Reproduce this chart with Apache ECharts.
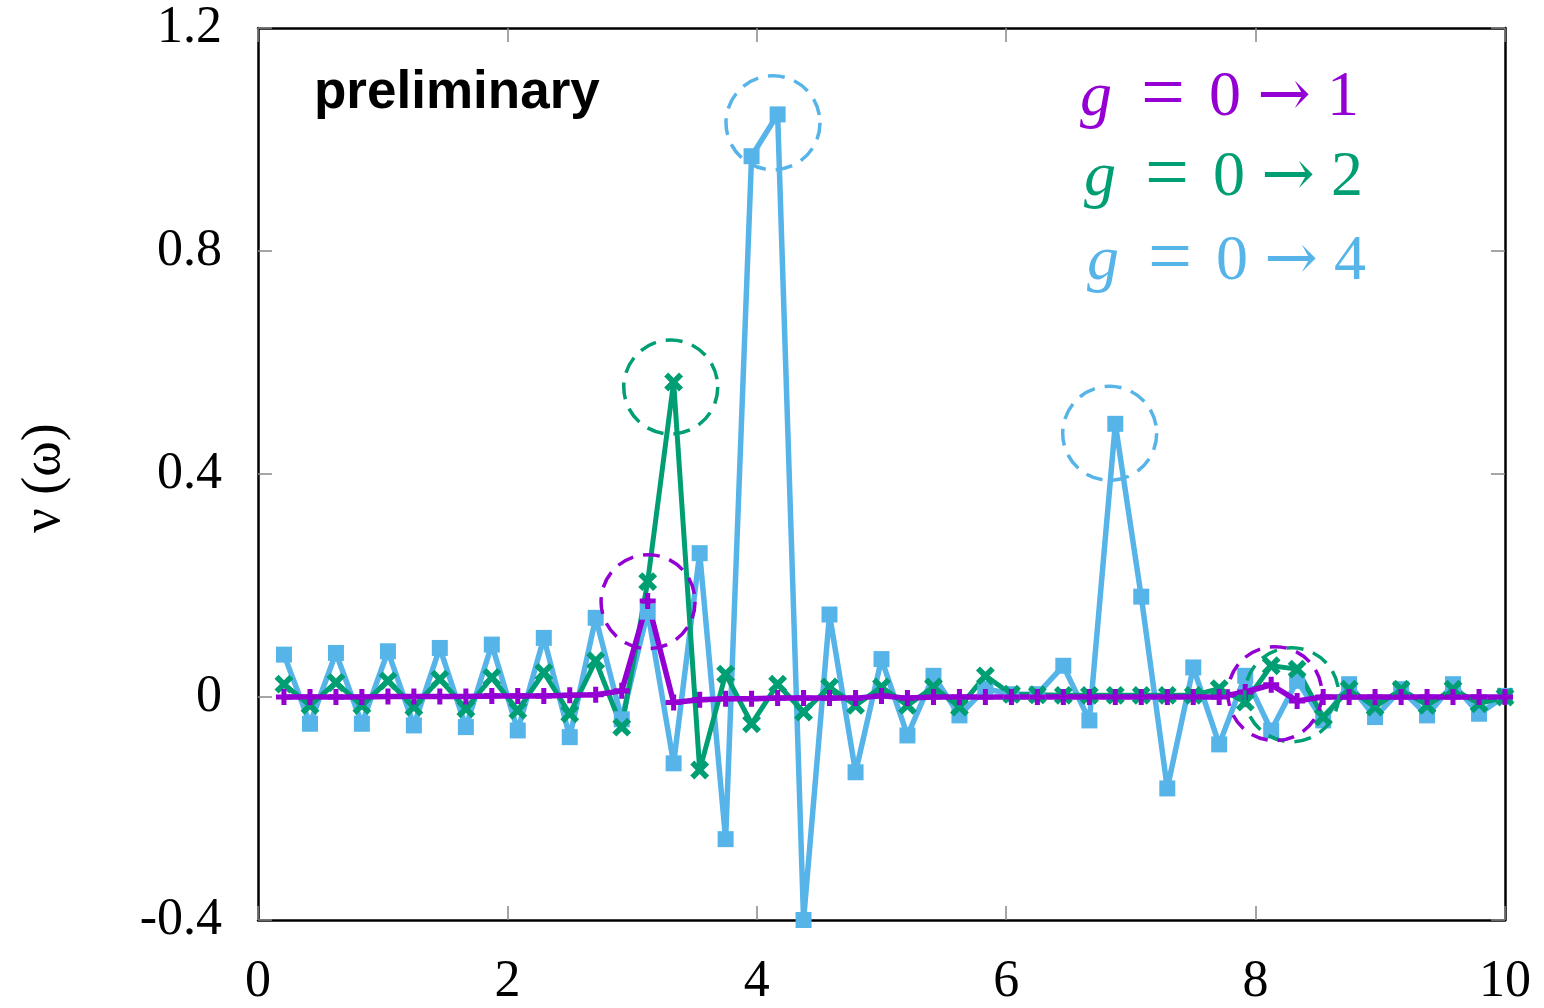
<!DOCTYPE html>
<html>
<head>
<meta charset="utf-8">
<script src="https://cdn.jsdelivr.net/npm/echarts@6/dist/echarts.min.js"></script>
<style>
  html, body { margin: 0; padding: 0; background: #fff; }
  #chart { width: 1544px; height: 1008px; }
</style>
</head>
<body>
<div id="chart"></div>
<script>
// frequency grid (omega)
const omega = [
  0.208, 0.417, 0.625, 0.833, 1.042, 1.25, 1.458, 1.667, 1.875, 2.083, 2.292, 2.5,
  2.708, 2.917, 3.125, 3.333, 3.542, 3.75, 3.958, 4.167, 4.375, 4.583, 4.792, 5.0,
  5.208, 5.417, 5.625, 5.833, 6.042, 6.25, 6.458, 6.667, 6.875, 7.083, 7.292, 7.5,
  7.708, 7.917, 8.125, 8.333, 8.542, 8.75, 8.958, 9.167, 9.375, 9.583, 9.792, 10.0
];

// g = 0 -> 1
const nuG1 = [
  0.0, 0.0, 0.0, 0.0, 0.001, 0.001, 0.001, 0.001, 0.002, 0.002, 0.002, 0.003,
  0.004, 0.011, 0.172, -0.01, -0.005, -0.003, -0.003, -0.002, -0.002, -0.002, -0.002, 0.002,
  -0.002, 0.0, 0.0, 0.0, 0.0, 0.0, 0.0, 0.0, 0.0, 0.0, 0.0, 0.0,
  0.0, 0.009, 0.022, -0.007, 0.0, 0.0, 0.0, 0.0, 0.0, 0.0, 0.0, 0.0
];

// g = 0 -> 2
const nuG2 = [
  0.023, -0.015, 0.026, -0.015, 0.029, -0.018, 0.032, -0.021, 0.035, -0.024, 0.044, -0.03,
  0.065, -0.054, 0.207, 0.565, -0.131, 0.041, -0.048, 0.023, -0.027, 0.018, -0.015, 0.018,
  -0.015, 0.018, -0.018, 0.038, 0.005, 0.004, 0.003, 0.003, 0.003, 0.003, 0.003, 0.003,
  0.015, -0.009, 0.056, 0.05, -0.036, 0.014, -0.018, 0.014, -0.015, 0.014, -0.012, 0.0
];

// g = 0 -> 4
const nuG4 = [
  0.076, -0.048, 0.079, -0.048, 0.082, -0.051, 0.088, -0.054, 0.094, -0.06, 0.106, -0.072,
  0.142, -0.04, 0.153, -0.119, 0.258, -0.255, 0.97, 1.045, -0.4, 0.148, -0.135, 0.068,
  -0.069, 0.038, -0.033, 0.015, 0.005, 0.005, 0.056, -0.042, 0.49, 0.18, -0.164, 0.053,
  -0.085, 0.038, -0.06, 0.029, -0.042, 0.023, -0.036, 0.014, -0.033, 0.023, -0.03, 0.002
];

// dashed circles around the peaks
const circlesG1 = [[3.128, 0.171], [8.155, 0.006]];
const circlesG2 = [[3.31, 0.556], [8.29, 0.004]];
const circlesG4 = [[4.13, 1.03], [6.83, 0.473]];

const xTicks = [0, 2, 4, 6, 8, 10];
const yTicks = [-0.4, 0, 0.4, 0.8, 1.2];

const colG1 = '#9400D3';
const colG2 = '#009E73';
const colG4 = '#56B4E9';

const plusPath = 'path://M-2.2,-7H2.2V-2.2H7V2.2H2.2V7H-2.2V2.2H-7V-2.2H-2.2Z';
const crossPath = 'path://M-1.9,-7H1.9V-1.9H7V1.9H1.9V7H-1.9V1.9H-7V-1.9H-1.9Z';

function pairs(ys) {
  return omega.map((w, i) => [w, ys[i]]);
}

function circles(list, color) {
  return {
    symbol: 'circle',
    symbolSize: 94,
    silent: true,
    label: { show: false },
    itemStyle: {
      color: 'rgba(0,0,0,0)',
      borderColor: color,
      borderWidth: 3.5,
      borderType: [17, 10]
    },
    data: list.map(c => ({ coord: c }))
  };
}

const chart = echarts.init(document.getElementById('chart'));

const serifFont = 'Liberation Serif';
const tickStyle = { show: true, inside: true, length: 14, lineStyle: { color: '#888', width: 1.5 } };
const frame = { show: true, onZero: false, lineStyle: { color: '#000', width: 2.5 } };

const option = {
  animation: false,
  backgroundColor: '#fff',
  grid: { left: 258, right: 39, top: 28, bottom: 80 },
  xAxis: [
    {
      type: 'value', min: xTicks[0], max: xTicks[xTicks.length - 1], interval: 2,
      axisLine: frame, axisTick: tickStyle, splitLine: { show: false },
      axisLabel: { fontFamily: serifFont, fontSize: 52, color: '#000', margin: 36 }
    },
    {
      type: 'value', position: 'top', min: 0, max: 10, interval: 2,
      axisLine: frame, axisTick: tickStyle, splitLine: { show: false },
      axisLabel: { show: false }
    }
  ],
  yAxis: [
    {
      type: 'value', min: yTicks[0], max: yTicks[yTicks.length - 1], interval: 0.4,
      axisLine: frame, axisTick: tickStyle, splitLine: { show: false },
      axisLabel: {
        fontFamily: serifFont, fontSize: 52, color: '#000', margin: 36,
        formatter: v => String(+v.toFixed(1))
      }
    },
    {
      type: 'value', position: 'right', min: -0.4, max: 1.2, interval: 0.4,
      axisLine: frame, axisTick: tickStyle, splitLine: { show: false },
      axisLabel: { show: false }
    }
  ],
  series: [
    {
      name: 'g = 0 → 4', type: 'line', data: pairs(nuG4),
      symbol: 'rect', symbolSize: 16,
      lineStyle: { color: colG4, width: 5.5 },
      itemStyle: { color: colG4 },
      markPoint: circles(circlesG4, colG4)
    },
    {
      name: 'g = 0 → 2', type: 'line', data: pairs(nuG2),
      symbol: crossPath, symbolSize: 21, symbolRotate: 45,
      lineStyle: { color: colG2, width: 5 },
      itemStyle: { color: colG2 },
      markPoint: circles(circlesG2, colG2)
    },
    {
      name: 'g = 0 → 1', type: 'line', data: pairs(nuG1),
      symbol: plusPath, symbolSize: 16,
      lineStyle: { color: colG1, width: 5.5 },
      itemStyle: { color: colG1 },
      markPoint: circles(circlesG1, colG1)
    }
  ],
  graphic: [
    {
      type: 'text', left: 314, top: 67,
      style: { text: 'preliminary', font: 'bold 53px "Liberation Sans", Arial, sans-serif', fill: '#000' }
    },
    {
      type: 'text', x: 45, y: 478, rotation: Math.PI / 2,
      style: {
        text: 'ν (ω)', font: '54px "Liberation Serif", serif', fill: '#000',
        textAlign: 'center', textVerticalAlign: 'middle'
      }
    }
  ]
};

// legend-like labels in the upper right corner
const legendRows = [
  { text: '1', color: colG1, x: 1080, y: 98 },
  { text: '2', color: colG2, x: 1084, y: 178 },
  { text: '4', color: colG4, x: 1087, y: 262 }
];
legendRows.forEach(r => {
  const base = { fontFamily: 'Liberation Serif, DejaVu Serif, serif', fontSize: 64, fill: r.color, align: 'center' };
  option.graphic.push({
    type: 'text', x: r.x, y: r.y,
    style: {
      text: '{g|g}{eq|=}{n|0}{ar|→}{n|' + r.text + '}',
      textVerticalAlign: 'middle',
      rich: {
        g: Object.assign({}, base, { fontStyle: 'italic', width: 46, align: 'left' }),
        eq: Object.assign({}, base, { width: 74, fontSize: 78 }),
        n: Object.assign({}, base, { width: 50 }),
        ar: Object.assign({}, base, { width: 68, fontSize: 64, fontFamily: 'DejaVu Serif' })
      }
    }
  });
});

chart.setOption(option);
</script>
</body>
</html>
